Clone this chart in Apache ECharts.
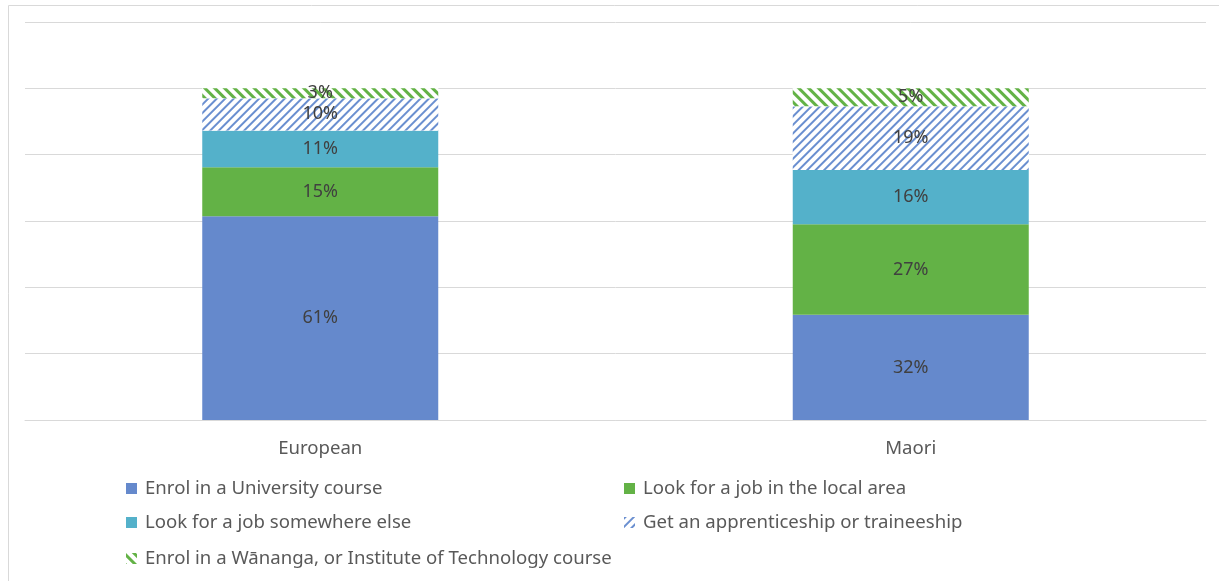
<!DOCTYPE html>
<html>
<head>
<meta charset="utf-8">
<title>Plans after school</title>
<script src="https://cdn.jsdelivr.net/npm/echarts@6/dist/echarts.min.js"></script>
<style>
    html,body{margin:0;padding:0;background:#fff;}
    #chart{width:1219px;height:581px;}
</style>
</head>
<body>
<div id="chart"></div>
<script>
// categories
var categories = ['European', 'Maori'];
// series values (percent of each group)
var university = [61.4, 31.7];
var localJob = [14.8, 27.3];
var elsewhereJob = [11.1, 16.4];
var apprenticeship = [9.7, 19.2];
var wananga = [3.0, 5.4];
// series names
var names = [
    'Enrol in a University course',
    'Look for a job in the local area',
    'Look for a job somewhere else',
    'Get an apprenticeship or traineeship',
    'Enrol in a Wānanga, or Institute of Technology course'
];

var FONT = '"Noto Sans", "Open Sans", sans-serif';
var chart = echarts.init(document.getElementById('chart'));

function pctLabel(p){
    return Math.round(p.value) + '%';
}
function makeSeries(name, data, itemStyle){
    return {
        name: name,
        type: 'bar',
        stack: 'all',
        barWidth: 236,
        data: data,
        itemStyle: itemStyle,
        label: {
            show: true,
            position: 'inside',
            formatter: pctLabel,
            color: '#404040',
            fontSize: 18,
            fontFamily: FONT
        }
    };
}
//legend, one per item so they sit in two columns
function makeLegend(name, left, top){
    return {
        data: [name],
        left: left,
        top: top,
        padding: 0,
        icon: 'rect',
        itemWidth: 11,
        itemHeight: 11,
        itemGap: 0,
        textStyle: {color: '#595959', fontSize: 18.6, fontFamily: FONT, padding: [0, 0, 0, 3]}
    };
}

chart.setOption({
    animation: false,
    grid: {left: 25, right: 13, top: 22, bottom: 161},
    legend: [
        makeLegend(names[0], 126, 479),
        makeLegend(names[1], 624, 479),
        makeLegend(names[2], 126, 513),
        makeLegend(names[3], 624, 513),
        makeLegend(names[4], 126, 549)
    ],
    graphic: [{
        type: 'rect',
        silent: true,
        shape: {x: 8.5, y: 5.5, width: 1300, height: 700},
        style: {fill: 'none', stroke: '#d9d9d9', lineWidth: 1}
    }],
    xAxis: {
        type: 'category',
        data: categories,
        axisLine: {lineStyle: {color: '#d9d9d9'}},
        axisTick: {show: false},
        axisLabel: {color: '#595959', fontSize: 18.6, fontFamily: FONT, margin: 19}
    },
    yAxis: {
        type: 'value',
        min: 0,
        max: 120,
        interval: 20,
        axisLabel: {show: false},
        axisLine: {show: false},
        axisTick: {show: false},
        splitLine: {lineStyle: {color: '#d9d9d9'}}
    },
    series: [
        makeSeries(names[0], university, {color: '#6589cc'}),
        makeSeries(names[1], localJob, {color: '#63b246'}),
        makeSeries(names[2], elsewhereJob, {color: '#54b1ca'}),
        makeSeries(names[3], apprenticeship, {
            color: '#ffffff',
            decal: {
                symbol: 'rect',
                color: '#6a8fd0',
                backgroundColor: '#ffffff',
                dashArrayX: [1, 0],
                dashArrayY: [2, 3.5],
                rotation: -Math.PI / 4
            }
        }),
        makeSeries(names[4], wananga, {
            color: '#ffffff',
            decal: {
                symbol: 'rect',
                color: '#63b246',
                backgroundColor: '#ffffff',
                dashArrayX: [1, 0],
                dashArrayY: [2.5, 3.5],
                rotation: Math.PI / 4
            }
        })
    ]
});
</script>
</body>
</html>
